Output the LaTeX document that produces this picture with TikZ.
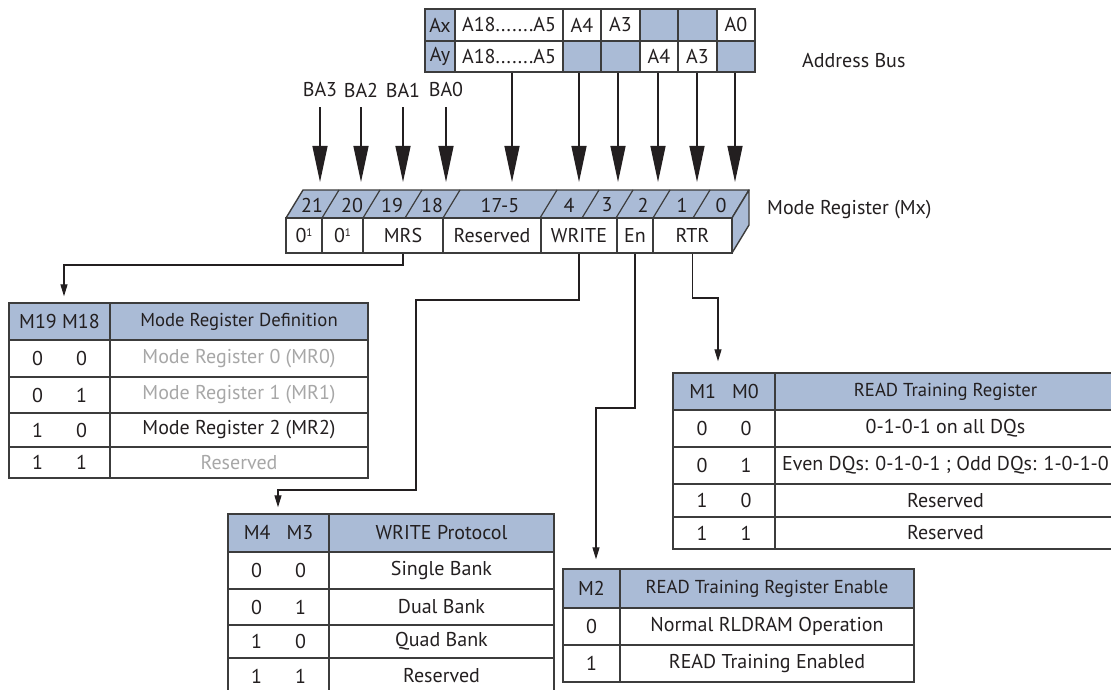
\documentclass[tikz,border=0pt]{standalone}
\usepackage{fontspec}
\setmainfont{PT Sans}
\usetikzlibrary{arrows.meta}
\definecolor{hdr}{HTML}{AABBD6}
\definecolor{ink}{HTML}{231F20}
\definecolor{greytxt}{HTML}{A7A7A7}
\definecolor{rulec}{HTML}{3C3C3C}
\newcommand\tcell[7]{\node[tcellst, fill=#6, minimum width={#4pt-#2pt}, minimum height={#5pt-#3pt}] (#1) at ({(#2+#4)/2},{-(#3+#5)/2}) {#7};}
\newcommand\bits[2]{\makebox[16pt]{#1}\hspace{28pt}\makebox[16pt]{#2}}
\newcommand\hsz{\fontsize{18.7}{21}\selectfont}
\newcommand\zsup{0\raisebox{6pt}{\fontsize{11}{11}\selectfont 1}}
\begin{document}
\begin{tikzpicture}[x=1pt,y=1pt,
  font=\fontsize{20}{23}\selectfont,
  tcellst/.style={draw=rulec, line width=1.4pt, inner sep=0pt, text=ink, anchor=center},
  lbl/.style={inner sep=0pt, text=ink},
  face/.style={draw=rulec, line width=1.4pt, fill=hdr, line join=round},
  bigarr/.style={line width=1.3pt, draw=ink, -{Stealth[length=36pt,width=15pt,inset=0pt]}},
  smallarr/.style={line width=1.3pt, draw=ink, -{Stealth[length=12pt,width=7pt,inset=0pt]}}]
\useasboundingbox (0,0) rectangle (1111,-690);
\fill[white] (0,0) rectangle (1111,-690);

% ---------- Address bus ----------
\tcell{ax1}{425}{9}{455}{41}{hdr}{Ax}
\tcell{ax2}{455}{9}{563}{41}{white}{A18.......A5}
\tcell{ax3}{563}{9}{601}{41}{white}{A4}
\tcell{ax4}{601}{9}{640}{41}{white}{A3}
\tcell{ax5}{640}{9}{678}{41}{hdr}{}
\tcell{ax6}{678}{9}{717}{41}{hdr}{}
\tcell{ax7}{717}{9}{755}{41}{white}{A0}
\tcell{ay1}{425}{41}{455}{72}{hdr}{Ay}
\tcell{ay2}{455}{41}{563}{72}{white}{A18.......A5}
\tcell{ay3}{563}{41}{601}{72}{hdr}{}
\tcell{ay4}{601}{41}{640}{72}{hdr}{}
\tcell{ay5}{640}{41}{678}{72}{white}{A4}
\tcell{ay6}{678}{41}{717}{72}{white}{A3}
\tcell{ay7}{717}{41}{755}{72}{hdr}{}
\node[lbl, anchor=west] (abus) at (802,-61) {Address Bus};

% ---------- BA labels ----------
\node[lbl] (ba3) at (320,-90) {BA3};
\node[lbl] (ba2) at (361,-90) {BA2};
\node[lbl] (ba1) at (403,-90) {BA1};
\node[lbl] (ba0) at (446,-90) {BA0};
\coordinate (tipline) at (0,-182);

% ---------- Mode register ----------
\draw[face] (286,-218) -- (303,-190) -- (749,-190) -- (732,-218) -- cycle;
\draw[face] (732,-218) -- (749,-190) -- (749,-225) -- (732,-253) -- cycle;
\foreach \b in {322,363,405,443,540,582,616,653,693}
  \draw[rulec, line width=1.2pt] (\b,-218) -- (\b+17,-190);
\foreach \t/\xx in {21/312,20/352,19/392,18/432,17-5/500,4/569,3/607,2/643,1/682,0/721}
  \node[lbl] at (\xx,-205) {\t};
\tcell{z21}{286}{218}{322}{253}{white}{\zsup}
\tcell{z20}{322}{218}{363}{253}{white}{\zsup}
\tcell{mrs}{363}{218}{443}{253}{white}{MRS}
\tcell{res}{443}{218}{541}{253}{white}{Reserved}
\tcell{write}{541}{218}{617}{253}{white}{WRITE}
\tcell{en}{617}{218}{653}{253}{white}{En}
\tcell{rtr}{653}{218}{732}{253}{white}{RTR}
\node[lbl, anchor=west] (mrlabel) at (767,-210) {Mode Register (Mx)};

% input arrows
\draw[bigarr] ([xshift=-2.5pt]ay4.south) -- ([xshift=-2.5pt]ay4.south |- tipline);
\draw[bigarr] ([xshift=-3pt]ay3.south) -- ([xshift=-3pt]ay3.south |- tipline);
\draw[bigarr] ([xshift=3pt]ay2.south) -- ([xshift=3pt]ay2.south |- tipline);
\draw[bigarr] ([xshift=-1pt]ay5.south) -- ([xshift=-1pt]ay5.south |- tipline);
\draw[bigarr] ([xshift=-0.5pt]ay6.south) -- ([xshift=-0.5pt]ay6.south |- tipline);
\draw[bigarr] ([xshift=-1pt]ay7.south) -- ([xshift=-1pt]ay7.south |- tipline);
\draw[bigarr, shorten <=10pt] (ba3.south) -- (ba3.south |- tipline);
\draw[bigarr, shorten <=10pt] (ba2.south) -- (ba2.south |- tipline);
\draw[bigarr, shorten <=10pt] (ba1.south) -- (ba1.south |- tipline);
\draw[bigarr, shorten <=10pt] (ba0.south) -- (ba0.south |- tipline);

% ---------- MR table ----------
\tcell{mh1}{9}{303}{110}{340}{hdr}{M19 M18}
\tcell{mh2}{110}{303}{368}{340}{hdr}{\hsz Mode Register Definition}
\tcell{m11}{9}{340}{110}{377}{white}{\bits{0}{0}}
\tcell{m12}{110}{340}{368}{377}{white}{\textcolor{greytxt}{Mode Register 0 (MR0)}}
\tcell{m21}{9}{377}{110}{413}{white}{\bits{0}{1}}
\tcell{m22}{110}{377}{368}{413}{white}{\textcolor{greytxt}{Mode Register 1 (MR1)}}
\tcell{m31}{9}{413}{110}{447}{white}{\bits{1}{0}}
\tcell{m32}{110}{413}{368}{447}{white}{Mode Register 2 (MR2)}
\tcell{m41}{9}{447}{110}{478}{white}{\bits{1}{1}}
\tcell{m42}{110}{447}{368}{478}{white}{\textcolor{greytxt}{Reserved}}

% ---------- WRITE table ----------
\tcell{wh1}{228}{514}{329}{552}{hdr}{M4\hspace{16pt}M3}
\tcell{wh2}{329}{514}{554}{552}{hdr}{WRITE Protocol}
\tcell{w11}{228}{552}{329}{589}{white}{\bits{0}{0}}
\tcell{w12}{329}{552}{554}{589}{white}{Single Bank}
\tcell{w21}{228}{589}{329}{625}{white}{\bits{0}{1}}
\tcell{w22}{329}{589}{554}{625}{white}{Dual Bank}
\tcell{w31}{228}{625}{329}{658}{white}{\bits{1}{0}}
\tcell{w32}{329}{625}{554}{658}{white}{Quad Bank}
\tcell{w41}{228}{658}{329}{694}{white}{\bits{1}{1}}
\tcell{w42}{329}{658}{554}{694}{white}{Reserved}

% ---------- En table ----------
\tcell{eh1}{563}{569}{620}{608}{hdr}{M2}
\tcell{eh2}{620}{569}{914}{608}{hdr}{\hsz READ Training Register Enable\hspace{34pt}}
\tcell{e11}{563}{608}{620}{645}{white}{0}
\tcell{e12}{620}{608}{914}{645}{white}{Normal RLDRAM Operation}
\tcell{e21}{563}{645}{620}{682}{white}{1}
\tcell{e22}{620}{645}{914}{682}{white}{READ Training Enabled}

% ---------- RTR table ----------
\tcell{rh1}{673}{373}{775}{410}{hdr}{M1\hspace{16pt}M0}
\tcell{rh2}{775}{373}{1116}{410}{hdr}{\hsz READ Training Register\hspace{20pt}}
\tcell{r11}{673}{410}{775}{447}{white}{\bits{0}{0}}
\tcell{r12}{775}{410}{1116}{447}{white}{0-1-0-1 on all DQs}
\tcell{r21}{673}{447}{775}{484}{white}{\bits{0}{1}}
\tcell{r22}{775}{447}{1116}{484}{white}{Even DQs: 0-1-0-1 ; Odd DQs: 1-0-1-0}
\tcell{r31}{673}{484}{775}{517}{white}{\bits{1}{0}}
\tcell{r32}{775}{484}{1116}{517}{white}{Reserved}
\tcell{r41}{673}{517}{775}{549}{white}{\bits{1}{1}}
\tcell{r42}{775}{517}{1116}{549}{white}{Reserved}

% ---------- connectors ----------
\coordinate (m1) at (64,-265);
\draw[smallarr, shorten >=6pt] (mrs.south) |- (m1) -- (m1 |- mh1.north);
\coordinate (w1) at (416,-300);
\coordinate (w2) at (278,-490);
\draw[smallarr, shorten >=6pt] (write.south) |- (w1) |- (w2) -- (w2 |- wh1.north);
\coordinate (e1) at (596,-408);
\draw[smallarr, shorten >=9pt] (en.south) |- (e1) -- (e1 |- eh1.north);
\coordinate (r1) at (718,-298);
\draw[smallarr, shorten >=11pt] (rtr.south) |- (r1) -- (r1 |- rh1.north);
\end{tikzpicture}
\end{document}
